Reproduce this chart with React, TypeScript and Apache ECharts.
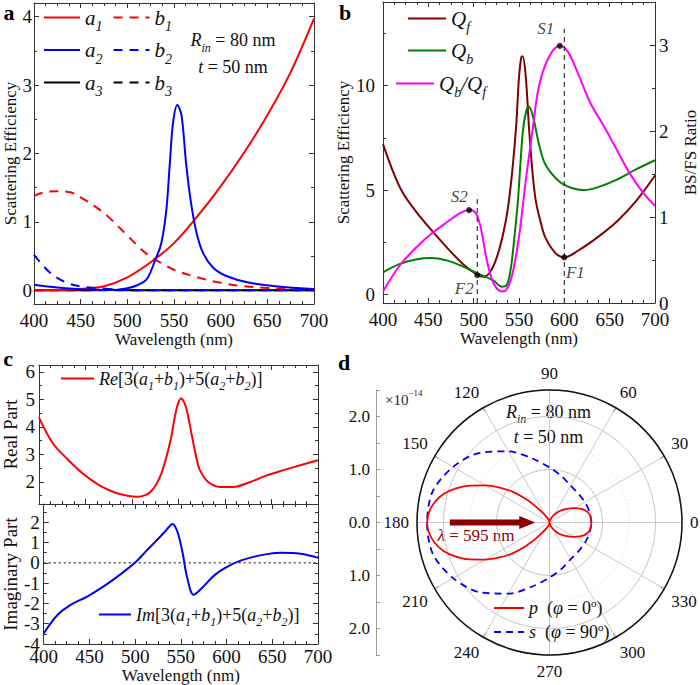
import React, { useEffect, useRef } from 'react';
import * as echarts from 'echarts';

const FONT = "'Liberation Serif', 'Times New Roman', Times, serif";
const INK = '#111111';
const AXIS = '#333333';

// ---------- Panel a : multipole scattering efficiencies ----------
const a1Wl = [400, 425, 450, 475, 500, 525, 550, 575, 600, 625, 650, 675, 700];
const a1Val = [0.0, 0.005, 0.02, 0.06, 0.19, 0.41, 0.69, 1.08, 1.52, 2.01, 2.56, 3.19, 3.97];
const b1Wl = [400, 410, 425, 440, 450, 465, 480, 500, 520, 535, 550, 575, 600, 625, 650, 675, 700];
const b1Val = [1.38, 1.43, 1.45, 1.43, 1.36, 1.23, 1.07, 0.8, 0.54, 0.41, 0.3, 0.19, 0.11, 0.06, 0.035, 0.02, 0.01];
const a2Wl = [400, 425, 450, 475, 490, 500, 510, 520, 525, 530, 535, 538, 542, 545.5, 549, 553.5, 558, 563, 568, 574, 581, 592, 606, 631, 667, 700];
const a2Val = [0.08, 0.04, 0.015, 0.005, 0.01, 0.03, 0.07, 0.15, 0.27, 0.45, 0.62, 0.8, 1.2, 1.85, 2.45, 2.71, 2.56, 1.85, 1.3, 0.85, 0.55, 0.33, 0.21, 0.11, 0.05, 0.02];
const b2Wl = [400, 417, 435, 453, 470, 490, 520, 600, 700];
const b2Val = [0.52, 0.26, 0.11, 0.05, 0.03, 0.01, 0.0, 0.0, 0.0];
const a3Wl = [400, 450, 472, 480, 488, 520, 600, 700];
const a3Val = [0, 0, 0.003, 0.02, 0.003, 0, 0, 0];
const b3Wl = [400, 550, 700];
const b3Val = [0, 0, 0];

// ---------- Panel b : forward / backward scattering ----------
const qfWl = [400, 411, 421.5, 436, 454, 472, 490, 504, 511, 518, 525.5, 532.5, 538, 543, 547, 550, 552.5, 554, 557.5, 561, 565, 568.5, 574, 579, 590, 600, 615, 636.5, 658, 679.5, 700];
const qfVal = [7.2, 5.9, 4.9, 4.0, 3.06, 2.18, 1.39, 0.95, 0.86, 1.07, 1.78, 2.9, 4.2, 6.1, 8.15, 10.4, 11.35, 11.4, 10.4, 8.0, 5.8, 4.5, 3.45, 2.74, 2.0, 1.78, 2.1, 2.74, 3.5, 4.5, 5.7];
const qbWl = [400, 418, 436, 454, 470, 482, 504, 522, 531, 536, 540, 543, 546, 549, 554, 557.5, 560.5, 565, 572, 579, 593.5, 608, 622, 636.5, 658, 679.5, 700];
const qbVal = [1.07, 1.46, 1.68, 1.75, 1.64, 1.46, 1.02, 0.67, 0.38, 0.43, 1.0, 1.94, 3.2, 4.6, 7.7, 8.7, 9.0, 8.6, 7.2, 6.24, 5.45, 5.1, 5.0, 5.13, 5.5, 6.0, 6.43];
const ratioWl = [400, 418, 436, 454, 472, 486, 495, 502, 507.5, 514.5, 522, 531, 536, 543, 550.5, 557.5, 565, 572, 583, 595, 604, 615, 629, 644, 658, 672, 687, 700];
const ratioVal = [0.135, 0.43, 0.64, 0.81, 0.95, 1.05, 1.08, 1.05, 0.89, 0.5, 0.23, 0.135, 0.15, 0.35, 0.81, 1.43, 2.01, 2.52, 2.86, 2.99, 2.92, 2.67, 2.32, 2.05, 1.78, 1.51, 1.28, 1.13];
const sNames = ['S1', 'S2'];
const sWl = [595, 495];
const sVal = [2.99, 1.08];
const fNames = ['F1', 'F2'];
const fWl = [600, 504];
const fVal = [1.78, 0.93];
const guideWl = [600, 504];
const guideTop = [3.19, 1.26];

// ---------- Panel c : real / imaginary parts ----------
const reWl = [400, 415, 430, 447, 465, 483, 495, 505, 515, 521, 526.5, 532, 537, 542, 546, 549.5, 552.7, 556, 559, 562, 566, 569.5, 573, 582, 595, 609, 627, 645, 663, 681, 700];
const reVal = [4.34, 3.4, 2.85, 2.31, 1.88, 1.6, 1.5, 1.46, 1.53, 1.68, 1.94, 2.35, 2.91, 3.6, 4.36, 4.85, 5.03, 4.9, 4.6, 4.1, 3.4, 2.85, 2.43, 2.0, 1.82, 1.82, 2.0, 2.24, 2.43, 2.61, 2.79];
const imWl = [400, 415, 429.5, 447.5, 465.5, 483.5, 501.5, 512, 523, 533.5, 541, 546, 551.5, 557, 564, 573, 587.5, 602, 616, 638, 659.5, 681, 700];
const imVal = [-3.48, -2.57, -2.07, -1.66, -1.16, -0.58, 0.08, 0.58, 1.08, 1.58, 1.92, 1.56, 0.58, -0.75, -1.57, -1.24, -0.58, -0.16, 0.12, 0.38, 0.5, 0.45, 0.25];

// ---------- Panel d : far-field polar patterns ----------
const pAngle = [0, 10, 20, 30, 40, 50, 60, 70, 80, 90, 100, 110, 120, 125, 130, 135, 140, 145, 150, 155, 160, 165, 170, 175, 180,
  185, 190, 195, 200, 205, 210, 215, 220, 225, 230, 235, 240, 250, 260, 270, 280, 290, 300, 310, 320, 330, 340, 350, 360];
const pR = [0.79, 0.78, 0.70, 0.54, 0.39, 0.27, 0.16, 0.08, 0.03, 0.01, 0.03, 0.07, 0.14, 0.22, 0.38, 0.62, 0.90, 1.15, 1.40, 1.65, 1.88, 2.07, 2.20, 2.28, 2.31,
  2.28, 2.20, 2.07, 1.88, 1.65, 1.40, 1.15, 0.90, 0.62, 0.38, 0.22, 0.14, 0.07, 0.03, 0.01, 0.03, 0.08, 0.16, 0.27, 0.39, 0.54, 0.70, 0.78, 0.79];
const sAngle = [0, 15, 30, 45, 60, 75, 90, 105, 120, 135, 150, 165, 180, 195, 210, 225, 240, 255, 270, 285, 300, 315, 330, 345, 360];
const sR = [0.79, 0.78, 0.77, 0.77, 0.80, 0.90, 1.04, 1.25, 1.55, 1.86, 2.10, 2.28, 2.31, 2.28, 2.10, 1.86, 1.55, 1.25, 1.04, 0.90, 0.80, 0.77, 0.77, 0.78, 0.79];
const arrowR = [1.88, 0.42];
const arrowAngle = [180, 180];

const isInt = (v: number) => Math.abs(v - Math.round(v)) < 1e-6;
const intLabel = (v: number) => (isInt(v) ? String(Math.round(v)) : '');
const fiveLabel = (v: number) => (isInt(v / 5) ? String(Math.round(v)) : '');

// rich-text styles: subscripts hang from the bottom of a tall line, superscripts from its top
function richStyles(size: number, color: string, key: 'color' | 'fill', lhOverride?: number) {
  const sub = Math.round(size * 0.66);
  const sup = Math.round(size * 0.6);
  const L = lhOverride ?? Math.round(sub + 0.85 * size);
  const c = { [key]: color };
  return {
    L,
    rich: {
      n: { fontFamily: FONT, fontSize: size, lineHeight: L, ...c },
      i: { fontFamily: FONT, fontSize: size, fontStyle: 'italic', lineHeight: L, ...c },
      s: { fontFamily: FONT, fontSize: sub, fontStyle: 'italic', lineHeight: sub, verticalAlign: 'bottom', ...c },
      sup: { fontFamily: FONT, fontSize: sup, lineHeight: sup, verticalAlign: 'top', ...c },
    },
  };
}

const LEG: Record<string, string> = {
  a1: '{i|a}{s|1}', b1: '{i|b}{s|1}', a2: '{i|a}{s|2}', b2: '{i|b}{s|2}', a3: '{i|a}{s|3}', b3: '{i|b}{s|3}',
  Qf: '{i|Q}{s|f}', Qb: '{i|Q}{s|b}', 'Qb/Qf': '{i|Q}{s|b}{i|/Q}{s|f}',
  Re: '{i|Re}{n|[3(}{i|a}{s|1}{n|+}{i|b}{s|1}{n|)+5(}{i|a}{s|2}{n|+}{i|b}{s|2}{n|)]}',
  Im: '{i|Im}{n|[3(}{i|a}{s|1}{n|+}{i|b}{s|1}{n|)+5(}{i|a}{s|2}{n|+}{i|b}{s|2}{n|)]}',
  p: '{i|p}{n|  (}{i|φ}{n| = 0}{sup|o}{n|)}',
  s: '{i|s}{n|  (}{i|φ}{n| = 90}{sup|o}{n|)}',
};

const tickLine = { color: AXIS, width: 1 };
function axisBase(gridIndex: number, position: string): any {
  return {
    type: 'value', gridIndex, position,
    axisLine: { show: true, onZero: false, lineStyle: { color: AXIS, width: 1 } },
    axisTick: { show: true, inside: true, length: 5, lineStyle: tickLine },
    minorTick: { show: true, splitNumber: 2, length: 3, lineStyle: tickLine },
    splitLine: { show: false },
    axisLabel: { show: false },
  };
}
function xAx(gridIndex: number, position: string, labels: boolean, nameGap = 0, margin = 7, minorSplit = 4) {
  const ax = axisBase(gridIndex, position);
  ax.min = 400; ax.max = 700; ax.interval = 50;
  ax.minorTick.splitNumber = minorSplit;
  if (labels) {
    ax.axisLabel = { show: true, color: INK, fontFamily: FONT, fontSize: 19, margin };
    ax.name = 'Wavelength (nm)';
    ax.nameLocation = 'middle';
    ax.nameGap = nameGap;
    ax.nameTextStyle = { color: INK, fontFamily: FONT, fontSize: 17 };
  }
  return ax;
}
function yAx(gridIndex: number, position: string, min: number, max: number, o: any = {}) {
  const ax = axisBase(gridIndex, position);
  ax.min = min; ax.max = max;
  if (o.interval) ax.interval = o.interval;
  if (o.splitNumber) ax.splitNumber = o.splitNumber;
  ax.minorTick.splitNumber = o.minorSplit ?? 2;
  if (o.labels) ax.axisLabel = { show: true, color: INK, fontFamily: FONT, fontSize: 19, margin: o.margin ?? 3, formatter: o.labels };
  if (o.name) {
    ax.name = o.name; ax.nameLocation = 'middle'; ax.nameGap = o.nameGap;
    ax.nameTextStyle = { color: INK, fontFamily: FONT, fontSize: o.nameSize ?? 17 };
  }
  return ax;
}

const pairs = (x: number[], y: number[]) => x.map((v, i) => [v, y[i]]);
function line(name: string, x: number[], y: number[], color: string, dashed: boolean, xi: number, yi: number, width = 2): any {
  return {
    name, type: 'line', xAxisIndex: xi, yAxisIndex: yi, data: pairs(x, y),
    symbol: 'none', smooth: 0.35, silent: true,
    lineStyle: { color, width, type: dashed ? [9, 7] : 'solid' },
    itemStyle: { color },
  };
}

function buildOption(): any {
  const series: any[] = [
    // panel a
    line('a3', a3Wl, a3Val, '#000000', false, 0, 0),
    line('b3', b3Wl, b3Val, '#000000', true, 0, 0),
    line('a1', a1Wl, a1Val, '#ff0000', false, 0, 0),
    line('b1', b1Wl, b1Val, '#ff0000', true, 0, 0),
    line('a2', a2Wl, a2Val, '#0000ff', false, 0, 0),
    line('b2', b2Wl, b2Val, '#0000ff', true, 0, 0),
    // panel b
    line('Qf', qfWl, qfVal, '#800000', false, 2, 2),
    line('Qb', qbWl, qbVal, '#008000', false, 2, 2),
    line('Qb/Qf', ratioWl, ratioVal, '#ff00ff', false, 2, 3),
    ...guideWl.map((w, i) => ({
      name: 'guide' + i, type: 'line', xAxisIndex: 2, yAxisIndex: 3, silent: true, symbol: 'none',
      data: [[w, 0], [w, guideTop[i]]],
      lineStyle: { color: '#333333', width: 1.2, type: [5, 4] },
    })),
    {
      name: 'marksS', type: 'scatter', xAxisIndex: 2, yAxisIndex: 3, symbol: 'circle', symbolSize: 6, silent: true, z: 5,
      itemStyle: { color: '#000000' },
      data: sNames.map((n, i) => ({ name: n, value: [sWl[i], sVal[i]], label: { offset: i === 0 ? [-14, -17] : [-10, -14] } })),
      label: { show: true, position: 'inside', formatter: '{b}', fontFamily: FONT, fontStyle: 'italic', fontSize: 17, color: INK },
    },
    {
      name: 'marksF', type: 'scatter', xAxisIndex: 2, yAxisIndex: 2, symbol: 'circle', symbolSize: 6, silent: true, z: 5,
      itemStyle: { color: '#000000' },
      data: fNames.map((n, i) => ({ name: n, value: [fWl[i], fVal[i]], label: { offset: i === 0 ? [11, 15] : [-13, 13] } })),
      label: { show: true, position: 'inside', formatter: '{b}', fontFamily: FONT, fontStyle: 'italic', fontSize: 17, color: INK },
    },
    // panel c
    line('Re', reWl, reVal, '#ff0000', false, 4, 4),
    {
      name: 'zero', type: 'line', xAxisIndex: 6, yAxisIndex: 6, silent: true, symbol: 'none',
      data: [[400, 0], [700, 0]], lineStyle: { color: '#555555', width: 1.5, type: [2, 3] },
    },
    line('Im', imWl, imVal, '#0000ff', false, 6, 6),
    // panel d
    {
      name: 's', type: 'line', coordinateSystem: 'polar', polarIndex: 0, symbol: 'none', smooth: 0.3, silent: true,
      data: pairs(sR, sAngle), lineStyle: { color: '#0000ff', width: 1.8, type: [7, 5] }, itemStyle: { color: '#0000ff' },
    },
    {
      name: 'p', type: 'line', coordinateSystem: 'polar', polarIndex: 0, symbol: 'none', smooth: 0.3, silent: true,
      data: pairs(pR, pAngle), lineStyle: { color: '#ff0000', width: 1.8 }, itemStyle: { color: '#ff0000' },
    },
    {
      name: 'arrow', type: 'line', coordinateSystem: 'polar', polarIndex: 0, silent: true, z: 6,
      data: pairs(arrowR, arrowAngle), showSymbol: true, showAllSymbol: true,
      symbol: (_v: any, params: any) => (params.dataIndex === 1 ? 'triangle' : 'none'),
      symbolSize: [13, 16], symbolRotate: -90,
      lineStyle: { color: '#8b0000', width: 6 }, itemStyle: { color: '#8b0000' },
    },
  ];

  const legendBase = (data: string[], left: number, centerY: number, size: number, itemWidth: number, itemGap: number, orient = 'vertical', lh?: number) => {
    const rs = richStyles(size, INK, 'color', lh);
    return {
      data, left, top: centerY - rs.L / 2, orient, itemWidth, itemHeight: 14, itemGap, padding: 0, selectedMode: false,
      itemStyle: { opacity: 0, borderWidth: 0 },
      formatter: (n: string) => LEG[n],
      textStyle: { fontFamily: FONT, color: INK, fontSize: size, rich: rs.rich },
    };
  };

  const gtext = (x: number, y: number, text: string, size: number, color = INK, align = 'center') => {
    const rs = richStyles(size, color, 'fill');
    return {
      type: 'text', x, y, silent: true,
      style: { text, rich: rs.rich, fontFamily: FONT, fontSize: size, fill: color, align, verticalAlign: 'middle' },
    };
  };
  const plabel = (x: number, y: number, t: string) => ({
    type: 'text', x, y, silent: true,
    style: { text: t, fontFamily: FONT, fontSize: 22, fontWeight: 'bold', fill: '#000000', align: 'center', verticalAlign: 'middle' },
  });

  return {
    animation: false,
    backgroundColor: '#ffffff',
    textStyle: { fontFamily: FONT },
    grid: [
      { left: 34, top: 3, width: 280, height: 301 },
      { left: 383, top: 2, width: 279, height: 301 },
      { left: 39, top: 365, width: 279, height: 139 },
      { left: 39, top: 504, width: 279, height: 140 },
      { left: 376, top: 390, width: 1, height: 265 },
    ],
    xAxis: [
      xAx(0, 'bottom', true, 26),
      xAx(0, 'top', false),
      xAx(1, 'bottom', true, 26),
      xAx(1, 'top', false),
      xAx(2, 'bottom', false),
      xAx(2, 'top', false),
      xAx(3, 'bottom', true, 21, 3),
      xAx(3, 'top', false),
      { type: 'value', gridIndex: 4, show: false, min: 0, max: 1 },
    ],
    yAxis: [
      yAx(0, 'left', -0.2, 4.2, { splitNumber: 5, labels: intLabel, name: 'Scattering Efficiency', nameGap: 14, margin: 2 }),
      yAx(0, 'right', -0.2, 4.2, { splitNumber: 5 }),
      yAx(1, 'left', -0.4, 14, { splitNumber: 3, labels: fiveLabel, name: 'Scattering Efficiency', nameGap: 28, margin: 8, minorSplit: 2 }),
      yAx(1, 'right', 0, 3.5, { interval: 1, labels: intLabel, name: 'BS/FS Ratio', nameGap: 27, margin: 4 }),
      yAx(2, 'left', 1.2, 6.25, { splitNumber: 5, labels: intLabel, name: 'Real Part', nameGap: 19, margin: 4, nameSize: 19 }),
      yAx(2, 'right', 1.2, 6.25, { splitNumber: 5 }),
      yAx(3, 'left', -4, 2.9, { interval: 1, labels: intLabel, name: 'Imaginary Part', nameGap: 19, margin: 4, nameSize: 19 }),
      yAx(3, 'right', -4, 2.9, { interval: 1 }),
      {
        type: 'value', gridIndex: 4, position: 'left', min: -2.5, max: 2.5, interval: 0.5,
        axisLine: { show: true, onZero: false, lineStyle: { color: '#9a9a9a', width: 1 } },
        axisTick: { show: true, inside: true, length: 4, lineStyle: { color: '#9a9a9a' } },
        axisLabel: { show: true, margin: 6, color: INK, fontFamily: FONT, fontSize: 17, formatter: (v: number) => (isInt(v) ? Math.abs(v).toFixed(1) : '') },
        splitLine: { show: false },
      },
    ],
    polar: [
      { center: [549.5, 522.5], radius: 132.5 },
      { center: [549.5, 522.5], radius: 132.5 },
    ],
    angleAxis: [
      {
        polarIndex: 0, type: 'value', min: 0, max: 360, interval: 30, startAngle: 0, clockwise: false,
        axisLine: { show: true, lineStyle: { color: '#111111', width: 1.5 } },
        axisTick: { show: true, inside: true, length: 5, lineStyle: { color: '#111111' } },
        axisLabel: { show: true, margin: 8, color: INK, fontFamily: FONT, fontSize: 17, formatter: (v: number) => (v === 360 ? '' : String(v)) },
        splitLine: { show: true, lineStyle: { color: '#c8c8c8', width: 1 } },
      },
      { polarIndex: 1, type: 'value', min: 0, max: 360, startAngle: 0, clockwise: false, show: false },
    ],
    radiusAxis: [
      {
        polarIndex: 0, type: 'value', min: 0, max: 2.5, interval: 0.5,
        axisLine: { show: false }, axisTick: { show: false }, axisLabel: { show: false },
        splitLine: { show: true, lineStyle: { color: '#d4d4d4', width: 1, type: [1, 3] } },
      },
      {
        polarIndex: 1, type: 'value', min: 0, max: 2.5, interval: 1,
        axisLine: { show: false }, axisTick: { show: false }, axisLabel: { show: false },
        splitLine: { show: true, lineStyle: { color: '#c8c8c8', width: 1 } },
      },
    ],
    legend: [
      legendBase(['a1', 'b1'], 43, 23, 21, 36, 10, 'horizontal'),
      legendBase(['a2', 'b2'], 43, 55.5, 21, 36, 10, 'horizontal'),
      legendBase(['a3', 'b3'], 43, 88, 21, 36, 10, 'horizontal'),
      legendBase(['Qf'], 407, 24, 21, 38, 0),
      legendBase(['Qb'], 407, 56, 21, 38, 0),
      legendBase(['Qb/Qf'], 395, 89, 21, 38, 0),
      legendBase(['Re'], 60, 383, 18, 33, 4),
      legendBase(['Im'], 98, 619, 18, 32, 4),
      legendBase(['p'], 493, 608, 18, 30, 0, 'vertical', 22),
      legendBase(['s'], 493, 632, 18, 30, 0, 'vertical', 22),
    ],
    graphic: [
      plabel(9, 12, 'a'),
      plabel(345, 12, 'b'),
      plabel(8, 358, 'c'),
      plabel(344, 362, 'd'),
      gtext(233, 40, '{i|R}{s|in}{n| = 80 nm}', 18),
      gtext(233, 67, '{i|t}{n| = 50 nm}', 18),
      gtext(548.5, 411.5, '{i|R}{s|in}{n| = 80 nm}', 18),
      gtext(548.5, 437, '{i|t}{n| = 50 nm}', 18),
      gtext(476, 535, '{i|λ}{n| = 595 nm}', 17, '#8b0000'),
      gtext(385, 400, '{n|×10}{sup|−14}', 15, '#222222', 'left'),
    ],
    series,
  };
}

export default function App() {
  const ref = useRef<HTMLDivElement>(null);
  useEffect(() => {
    document.body.style.margin = '0';
    const chart = echarts.init(ref.current as HTMLDivElement, null, { renderer: 'svg' });
    chart.setOption(buildOption());
    return () => chart.dispose();
  }, []);
  return <div ref={ref} style={{ width: 700, height: 685 }} />;
}
